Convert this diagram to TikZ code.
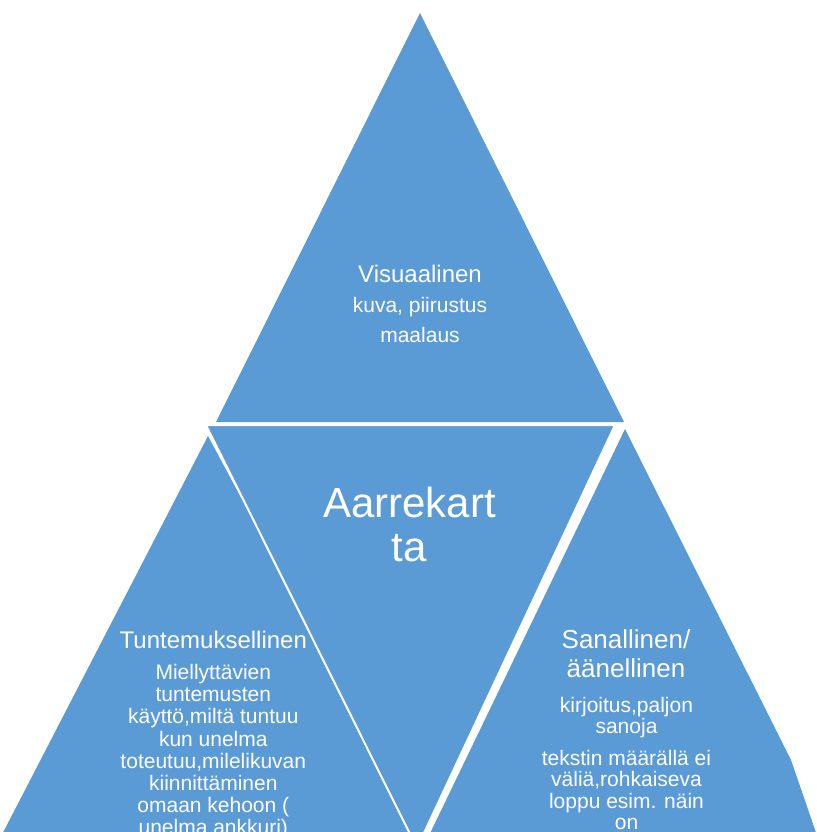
\documentclass[tikz,border=0pt]{standalone}
\usepackage{fontspec}
\setmainfont{Liberation Sans}
\definecolor{tri}{RGB}{91,155,213}
\newcommand\fsz[2]{\fontsize{#1}{#2}\selectfont}
\newcommand\lns[1]{\begin{tabular}[t]{@{}c@{}}#1\end{tabular}}
\begin{document}
\begin{tikzpicture}[x=1pt,y=-1pt,
  trifill/.style={fill=tri},
  txt/.style={text=white, inner sep=0pt, anchor=base}]
\useasboundingbox (0,0) rectangle (816,832);
\clip (0,0) rectangle (816,832);
% left triangle
\fill[trifill] (208,436) -- (-6,850) -- (430,850) -- cycle;
% right triangle
\fill[trifill] (625,429) -- (791,760) -- (822,850) -- (422,850) -- cycle;
% top triangle
\fill[trifill] (420,13) -- (624,422) -- (216,422) -- cycle;
% centre (inverted) triangle
\filldraw[fill=tri, draw=white, line width=2pt] (206,425) -- (615,425) -- (417,848) -- cycle;
% texts
\node[txt, font=\fsz{24}{28}] (vis) at (420,282) {Visuaalinen};
\node[txt, font=\fsz{21}{30}] (visb) at (420,312) {\lns{kuva, piirustus\\maalaus}};
\node[txt, font=\fsz{42}{44}] (aar) at (409.5,517) {\lns{Aarrekart\\ta}};
\node[txt, font=\fsz{24}{28}] (tun) at (213.3,648) {Tuntemuksellinen};
\node[txt, font=\fsz{21}{22.2}] (tunb) at (213.3,679.5) {\lns{Miellyttävien\\tuntemusten\\käyttö,miltä tuntuu\\kun unelma\\toteutuu,milelikuvan\\kiinnittäminen\\omaan kehoon (\\unelma ankkuri)}};
\node[txt, font=\fsz{26}{29}] (san) at (626,648.3) {\lns{Sanallinen/\\äänellinen}};
\node[txt, font=\fsz{21}{21}] (sanb) at (626.5,712) {\lns{kirjoitus,paljon\\sanoja}};
\node[txt, font=\fsz{21}{21.5}] (sanc) at (626.5,765) {\lns{tekstin määrällä ei\\väliä,rohkaiseva\\loppu esim. näin\\on}};
\end{tikzpicture}
\end{document}
